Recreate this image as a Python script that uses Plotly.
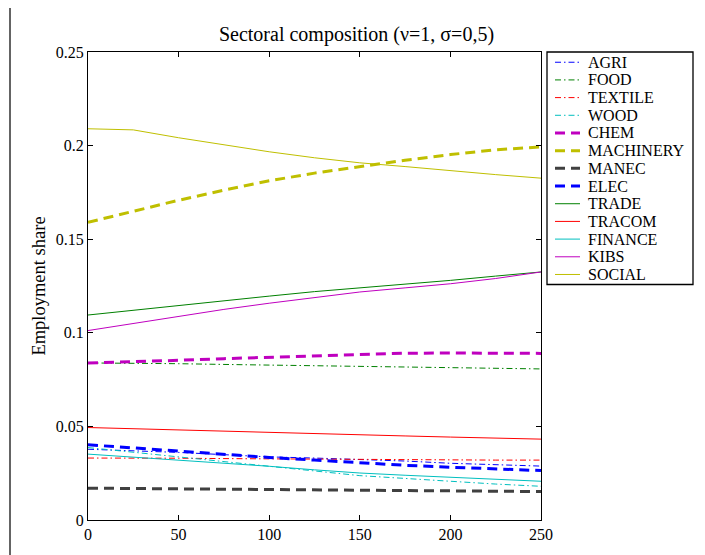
import plotly.graph_objects as go

steps = [0, 25, 50, 75, 100, 125, 150, 175, 200, 225, 250]

sectors = ["AGRI", "FOOD", "TEXTILE", "WOOD", "CHEM", "MACHINERY", "MANEC",
           "ELEC", "TRADE", "TRACOM", "FINANCE", "KIBS", "SOCIAL"]

agri = [0.0378, 0.0370, 0.0361, 0.0349, 0.0337, 0.0331, 0.0324, 0.0315, 0.0303, 0.0295, 0.0288]
food = [0.0839, 0.0838, 0.0835, 0.0831, 0.0828, 0.0825, 0.0820, 0.0817, 0.0814, 0.0810, 0.0807]
textile = [0.0331, 0.0332, 0.0330, 0.0328, 0.0326, 0.0325, 0.0323, 0.0322, 0.0321, 0.0320, 0.0320]
wood = [0.0387, 0.0362, 0.0336, 0.0310, 0.0284, 0.0260, 0.0237, 0.0222, 0.0206, 0.0192, 0.0180]
chem = [0.0839, 0.0845, 0.0853, 0.0862, 0.0870, 0.0879, 0.0886, 0.0891, 0.0892, 0.0891, 0.0890]
machinery = [0.1590, 0.1650, 0.1708, 0.1762, 0.1812, 0.1853, 0.1888, 0.1922, 0.1952, 0.1978, 0.1993]
manec = [0.0170, 0.0168, 0.0166, 0.0164, 0.0162, 0.0160, 0.0158, 0.0156, 0.0155, 0.0153, 0.0152]
elec = [0.0402, 0.0385, 0.0366, 0.0350, 0.0334, 0.0320, 0.0305, 0.0292, 0.0282, 0.0272, 0.0264]
trade = [0.1095, 0.1121, 0.1147, 0.1172, 0.1196, 0.1220, 0.1240, 0.1257, 0.1280, 0.1303, 0.1325]
tracom = [0.0494, 0.0487, 0.0481, 0.0474, 0.0467, 0.0461, 0.0455, 0.0449, 0.0443, 0.0437, 0.0432]
finance = [0.0352, 0.0336, 0.0320, 0.0303, 0.0287, 0.0268, 0.0251, 0.0239, 0.0228, 0.0217, 0.0207]
kibs = [0.1012, 0.1050, 0.1088, 0.1125, 0.1158, 0.1190, 0.1218, 0.1240, 0.1262, 0.1290, 0.1325]
social = [0.2090, 0.2084, 0.2042, 0.2003, 0.1967, 0.1935, 0.1908, 0.1888, 0.1865, 0.1845, 0.1826]

series = [agri, food, textile, wood, chem, machinery, manec, elec,
          trade, tracom, finance, kibs, social]

y_ticks = [0, 0.05, 0.1, 0.15, 0.2, 0.25]
y_tick_labels = ["0", "0.05", "0.1", "0.15", "0.2", "0.25"]
x_ticks = [0, 50, 100, 150, 200, 250]

BLUE, GREEN, RED, CYAN = "#0000ff", "#008000", "#ff0000", "#00bfbf"
MAG, YEL, GRAY = "#bf00bf", "#bfbf00", "#404040"
DASHDOT = "6px,3px,1.5px,3px"
DASH = "10px,6px"
styles = [
    (BLUE, 1, DASHDOT), (GREEN, 1, DASHDOT), (RED, 1, DASHDOT), (CYAN, 1, DASHDOT),
    (MAG, 3, DASH), (YEL, 3, DASH), (GRAY, 3, DASH), (BLUE, 3, DASH),
    (GREEN, 1, "solid"), (RED, 1, "solid"), (CYAN, 1, "solid"), (MAG, 1, "solid"), (YEL, 1, "solid"),
]

FONT = "'Liberation Serif', 'Times New Roman', serif"
OFF = 8  # page body margin
W, H = 705 - OFF, 555 - OFF
L, R, T, B = 88 - OFF, 164, 52 - OFF, 32
PW, PH = W - L - R, H - T - B


def px(xs):
    # screen x -> paper
    return (xs - 88) / PW


def py(ys):
    # screen y -> paper
    return (523 - ys) / PH


fig = go.Figure()
for name, vals, (col, w, dash) in zip(sectors, series, styles):
    fig.add_trace(go.Scatter(x=steps, y=vals, mode="lines", name=name,
                             line=dict(color=col, width=w, dash=dash),
                             showlegend=False))

shapes = []
annotations = []
# outer frame (top and left edges visible)
shapes.append(dict(type="line", xref="paper", yref="paper", x0=px(10), x1=px(720),
                   y0=py(6), y1=py(6), line=dict(color="#707070", width=1.5)))
shapes.append(dict(type="line", xref="paper", yref="paper", x0=px(10), x1=px(10),
                   y0=py(6), y1=py(570), line=dict(color="#303030", width=1.5)))
# legend box
shapes.append(dict(type="rect", xref="paper", yref="paper", x0=px(547), x1=px(693),
                   y0=py(286), y1=py(52), line=dict(color="black", width=1.3),
                   fillcolor="white"))
row0, rowh = 62.3, 17.8
for i, (name, (col, w, dash)) in enumerate(zip(sectors, styles)):
    yc = row0 + i * rowh
    shapes.append(dict(type="line", xref="paper", yref="paper", x0=px(555), x1=px(580),
                       y0=py(yc), y1=py(yc), line=dict(color=col, width=w, dash=dash)))
    annotations.append(dict(xref="paper", yref="paper", x=px(586), y=py(yc),
                            xanchor="left", yanchor="middle", text=name, showarrow=False,
                            font=dict(family=FONT, size=16, color="black")))

fig.update_layout(
    width=W, height=H,
    margin=dict(l=L, r=R, t=T, b=B),
    paper_bgcolor="white", plot_bgcolor="white",
    font=dict(family=FONT, color="black"),
    title=dict(text="Sectoral composition (\u03bd=1, \u03c3=0,5)", x=px(314.5),
               xanchor="center", y=1 - (34 - OFF) / H, yanchor="middle", yref="container",
               font=dict(family=FONT, size=20, color="black")),
    xaxis=dict(range=[0, 250], tickvals=x_ticks, ticks="inside", ticklen=5,
               showgrid=False, zeroline=False, showline=True, mirror="ticks",
               linecolor="black", linewidth=1, tickcolor="black",
               tickfont=dict(family=FONT, size=16)),
    yaxis=dict(range=[0, 0.25], tickvals=y_ticks, ticktext=y_tick_labels,
               ticks="inside", ticklen=5, showgrid=False, zeroline=False,
               showline=True, mirror="ticks", linecolor="black", linewidth=1,
               tickcolor="black", tickfont=dict(family=FONT, size=16),
               title=dict(text="Employment share", standoff=5,
                          font=dict(family=FONT, size=18.5))),
    shapes=shapes,
    annotations=annotations,
)

fig.write_html("out.html")
